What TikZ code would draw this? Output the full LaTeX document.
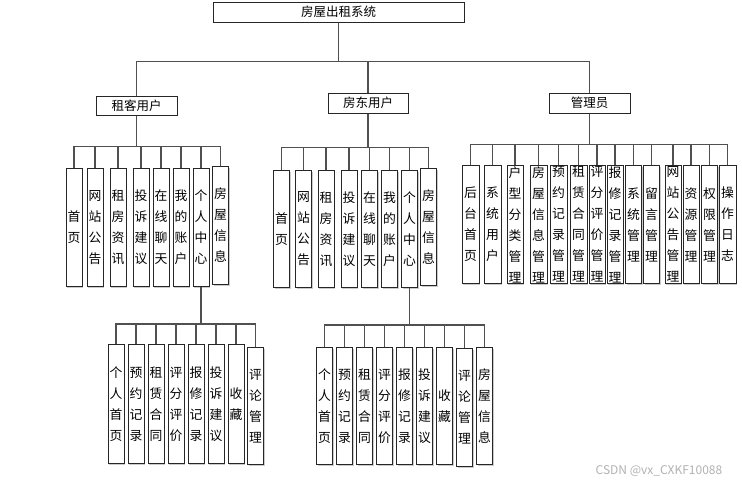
\documentclass[tikz,border=0pt]{standalone}
\usepackage{fontspec}
\setmainfont{Noto Sans CJK SC}
\usepackage{xcolor}
\usepackage{tikz}
\usetikzlibrary{calc, shadows}

\definecolor{linegray}{HTML}{505050}
\definecolor{boxline}{HTML}{262626}

\begin{document}
\begin{tikzpicture}[
  x=1pt, y=-1pt,
  box/.style={rectangle, draw=boxline, line width=1pt, fill=white, font=\fontsize{12.5}{14}\selectfont, inner sep=0pt, drop shadow={shadow xshift=1pt, shadow yshift=-1pt, fill=black!40}},
  vbox/.style={rectangle, draw=boxline, line width=1pt, fill=white, anchor=north, minimum width=16pt, minimum height=118pt, inner xsep=1pt, inner ysep=0pt, align=center, font=\fontsize{12.8}{21}\selectfont, drop shadow={shadow xshift=1pt, shadow yshift=-1pt, fill=black!40}},
  link/.style={draw=linegray, line width=1.5pt}
]
\useasboundingbox[fill=white] (0,0) rectangle (742,485);

% Top level
\node[box, minimum width=251pt, minimum height=20pt] (root) at (338.5,12) {房屋出租系统};
\node[box, minimum width=81pt, minimum height=19pt] (zuke) at (136.5,105.5) {租客用户};
\node[box, minimum width=80pt, minimum height=20pt] (fangdong) at (368,103) {房东用户};
\node[box, minimum width=81pt, minimum height=20pt] (admin) at (589.5,103) {管理员};

\coordinate (rootbar) at ($(root.south)+(0,39)$);
\draw[link] (root.south) -- (rootbar) -| (zuke.north) (rootbar) -| (fangdong.north) (rootbar) -| (admin.north);

% Tenant
\node[vbox] (zk1) at (74,168) {首\\页};
\node[vbox] (zk2) at (95,168) {网\\站\\公\\告};
\node[vbox] (zk3) at (118,168) {租\\房\\资\\讯};
\node[vbox] (zk4) at (141,168) {投\\诉\\建\\议};
\node[vbox] (zk5) at (161,168) {在\\线\\聊\\天};
\node[vbox] (zk6) at (181,168) {我\\的\\账\\户};
\node[vbox] (zk7) at (201,168) {个\\人\\中\\心};
\node[vbox] (zk8) at (220.5,166) {房\\屋\\信\\息};

\coordinate (zkbar) at ($(zuke.south)+(0,31)$);
\draw[link] (zuke.south) -- (zkbar) -| (zk1.north) (zkbar) -| (zk2.north) (zkbar) -| (zk3.north) (zkbar) -| (zk4.north)
  (zkbar) -| (zk5.north) (zkbar) -| (zk6.north) (zkbar) -| (zk7.north) (zkbar) -| (zk8.north);

% Tenant personal centre
\node[vbox, minimum height=119pt] (zkc1) at (116,344) {个\\人\\首\\页};
\node[vbox, minimum height=119pt] (zkc2) at (136,344) {预\\约\\记\\录};
\node[vbox, minimum height=119pt] (zkc3) at (156,344) {租\\赁\\合\\同};
\node[vbox, minimum height=119pt] (zkc4) at (176,344) {评\\分\\评\\价};
\node[vbox, minimum height=119pt] (zkc5) at (196,344) {报\\修\\记\\录};
\node[vbox, minimum height=119pt] (zkc6) at (216,344) {投\\诉\\建\\议};
\node[vbox, minimum height=119pt] (zkc7) at (236,344) {收\\藏};
\node[vbox, minimum height=117pt] (zkc8) at (255.5,347) {评\\论\\管\\理};

\coordinate (zkcbar) at ($(zk7.south)+(0,37)$);
\draw[link] (zk7.south) -- (zkcbar) -| (zkc1.north) (zkcbar) -| (zkc2.north) (zkcbar) -| (zkc3.north) (zkcbar) -| (zkc4.north)
  (zkcbar) -| (zkc5.north) (zkcbar) -| (zkc6.north) (zkcbar) -| (zkc7.north) (zkcbar) -| (zkc8.north);

% Landlord
\node[vbox, minimum height=117pt] (fd1) at (281.5,170) {首\\页};
\node[vbox, minimum height=117pt] (fd2) at (303.5,170) {网\\站\\公\\告};
\node[vbox, minimum height=117pt] (fd3) at (326,170) {租\\房\\资\\讯};
\node[vbox, minimum height=117pt] (fd4) at (349,170) {投\\诉\\建\\议};
\node[vbox, minimum height=117pt] (fd5) at (369.5,170) {在\\线\\聊\\天};
\node[vbox, minimum height=117pt] (fd6) at (389.5,170) {我\\的\\账\\户};
\node[vbox, minimum height=117pt] (fd7) at (409.5,170) {个\\人\\中\\心};
\node[vbox, minimum height=117pt] (fd8) at (428.5,168) {房\\屋\\信\\息};

\coordinate (fdbar) at ($(fangdong.south)+(0,34)$);
\draw[link] (fangdong.south) -- (fdbar) -| (fd1.north) (fdbar) -| (fd2.north) (fdbar) -| (fd3.north) (fdbar) -| (fd4.north)
  (fdbar) -| (fd5.north) (fdbar) -| (fd6.north) (fdbar) -| (fd7.north) (fdbar) -| (fd8.north);

% Landlord personal centre
\node[vbox, minimum height=117pt] (fdc1) at (324.5,347) {个\\人\\首\\页};
\node[vbox, minimum height=117pt] (fdc2) at (344.5,347) {预\\约\\记\\录};
\node[vbox, minimum height=117pt] (fdc3) at (364.5,347) {租\\赁\\合\\同};
\node[vbox, minimum height=117pt] (fdc4) at (384.5,347) {评\\分\\评\\价};
\node[vbox, minimum height=117pt] (fdc5) at (404.5,347) {报\\修\\记\\录};
\node[vbox, minimum height=117pt] (fdc6) at (424.5,347) {投\\诉\\建\\议};
\node[vbox, minimum height=117pt] (fdc7) at (444.5,347) {收\\藏};
\node[vbox, minimum height=118pt] (fdc8) at (464.5,348) {评\\论\\管\\理};
\node[vbox, minimum height=117pt] (fdc9) at (484.5,347) {房\\屋\\信\\息};

\coordinate (fdcbar) at ($(fd7.south)+(0,37)$);
\draw[link] (fd7.south) -- (fdcbar) -| (fdc1.north) (fdcbar) -| (fdc2.north) (fdcbar) -| (fdc3.north) (fdcbar) -| (fdc4.north)
  (fdcbar) -| (fdc5.north) (fdcbar) -| (fdc6.north) (fdcbar) -| (fdc7.north) (fdcbar) -| (fdc8.north) (fdcbar) -| (fdc9.north);

% Administrator
\node[vbox, minimum width=17pt] (gl1) at (470.5,165) {后\\台\\首\\页};
\node[vbox, minimum width=17pt] (gl2) at (492.5,165) {系\\统\\用\\户};
\node[vbox] (gl3) at (515,165) {户\\型\\分\\类\\管\\理};
\node[vbox, minimum width=17pt] (gl4) at (538.5,165) {房\\屋\\信\\息\\管\\理};
\node[vbox, minimum width=17pt] (gl5) at (558.5,165) {预\\约\\记\\录\\管\\理};
\node[vbox, minimum width=17pt] (gl6) at (578.5,165) {租\\赁\\合\\同\\管\\理};
\node[vbox] (gl7) at (597,165) {评\\分\\评\\价\\管\\理};
\node[vbox] (gl8) at (615,165) {报\\修\\记\\录\\管\\理};
\node[vbox] (gl9) at (633.5,165) {系\\统\\管\\理};
\node[vbox] (gl10) at (651.5,165) {留\\言\\管\\理};
\node[vbox] (gl11) at (673,165) {网\\站\\公\\告\\管\\理};
\node[vbox] (gl12) at (691,165) {资\\源\\管\\理};
\node[vbox] (gl13) at (709.5,165) {权\\限\\管\\理};
\node[vbox, minimum width=17pt] (gl14) at (727.5,165) {操\\作\\日\\志};

\coordinate (glbar) at ($(admin.south)+(0,31)$);
\draw[link] (admin.south) -- (glbar) -| (gl1.north) (glbar) -| (gl2.north) (glbar) -| (gl3.north) (glbar) -| (gl4.north)
  (glbar) -| (gl5.north) (glbar) -| (gl6.north) (glbar) -| (gl7.north) (glbar) -| (gl8.north) (glbar) -| (gl9.north)
  (glbar) -| (gl10.north) (glbar) -| (gl11.north) (glbar) -| (gl12.north) (glbar) -| (gl13.north) (glbar) -| (gl14.north);

% Watermark
\node[font=\fontsize{12}{14}\selectfont, text=black!30] (mark) at (659,471) {CSDN @vx\_CXKF10088};

\end{tikzpicture}
\end{document}
